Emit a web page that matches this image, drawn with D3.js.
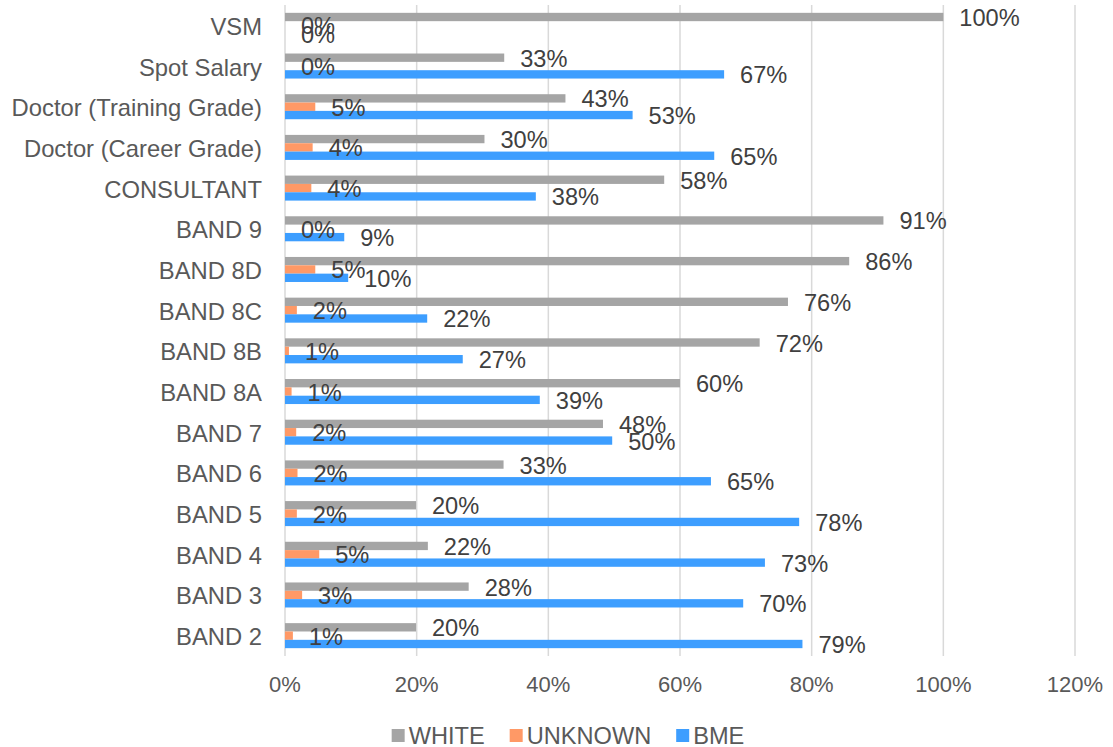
<!DOCTYPE html>
<html>
<head>
<meta charset="utf-8">
<script src="https://cdn.jsdelivr.net/npm/d3@7"></script>
<style>
    body { margin: 0; background: #ffffff; }
    text { font-family: "Liberation Sans", Arial, sans-serif; }
    .grid line { stroke: #d9d9d9; stroke-width: 1.5px; }
    .category { fill: #595959; font-size: 23.8px; }
    .tick-label { fill: #595959; font-size: 22px; }
    .value-label { fill: #404040; font-size: 23.6px; }
    .legend-text { fill: #595959; font-size: 23.6px; }
</style>
</head>
<body>
<div id="chart"></div>
<script>
// categories top to bottom
var categories = ["VSM", "Spot Salary", "Doctor (Training Grade)", "Doctor (Career Grade)", "CONSULTANT",
    "BAND 9", "BAND 8D", "BAND 8C", "BAND 8B", "BAND 8A", "BAND 7", "BAND 6", "BAND 5", "BAND 4", "BAND 3", "BAND 2"];
var seriesNames = ["WHITE", "UNKNOWN", "BME"];
var whiteValues = [100, 33.3, 42.6, 30.3, 57.6, 90.9, 85.7, 76.4, 72.1, 60.0, 48.3, 33.2, 19.9, 21.7, 27.9, 19.9];
var unknownValues = [0, 0, 4.6, 4.2, 4.0, 0, 4.6, 1.8, 0.6, 1.0, 1.7, 1.9, 1.8, 5.2, 2.6, 1.2];
var bmeValues = [0, 66.7, 52.8, 65.2, 38.1, 9.0, 9.6, 21.6, 27.0, 38.7, 49.7, 64.7, 78.1, 72.9, 69.6, 78.6];
var tickValues = [0, 20, 40, 60, 80, 100, 120];
var seriesColors = ["#a5a5a5", "#ff9966", "#3d9eff"];

/**
 * Constructor for the grouped bar chart
 */
function GroupedBarChart(){
    var self = this;
    self.init();
};

/**
 * Creates the svg and the scales
 */
GroupedBarChart.prototype.init = function(){
    var self = this;
    self.width = 1113;
    self.height = 747;
    self.plot = {left: 285, right: 1075, top: 5, bottom: 656};

    self.svg = d3.select("#chart").append("svg")
        .attr("width", self.width)
        .attr("height", self.height);

    self.xScale = d3.scaleLinear().domain([0, 120]).range([self.plot.left, self.plot.right]);
    self.yScale = d3.scaleBand().domain(categories)
        .range([self.plot.top, self.plot.bottom])
        .paddingInner(0.385)
        .paddingOuter(0.1925);
    self.innerScale = d3.scaleBand().domain(seriesNames).range([0, self.yScale.bandwidth()]);
    self.colorScale = d3.scaleOrdinal().domain(seriesNames).range(seriesColors);
};

/**
 * Draws grid, bars, labels and legend
 */
GroupedBarChart.prototype.update = function(){
    var self = this;
    var svg = self.svg;

    //vertical gridlines
    svg.append("g").attr("class", "grid")
        .selectAll("line").data(tickValues)
        .enter().append("line")
        .attr("x1", function (d) { return self.xScale(d); })
        .attr("x2", function (d) { return self.xScale(d); })
        .attr("y1", self.plot.top)
        .attr("y2", self.plot.bottom);

    svg.append("g").selectAll("text").data(tickValues)
        .enter().append("text")
        .attr("class", "tick-label")
        .attr("x", function (d) { return self.xScale(d); })
        .attr("y", 684)
        .attr("text-anchor", "middle")
        .attr("dominant-baseline", "central")
        .text(function (d) { return d + "%"; });

    //category labels
    svg.append("g").selectAll("text").data(categories)
        .enter().append("text")
        .attr("class", "category")
        .attr("x", 262)
        .attr("y", function (d) { return self.yScale(d) + self.yScale.bandwidth() / 2 + 1; })
        .attr("text-anchor", "end")
        .attr("dominant-baseline", "central")
        .text(function (d) { return d; });

    var seriesValues = [whiteValues, unknownValues, bmeValues];
    var rows = [];
    categories.forEach(function (cat, i) {
        seriesNames.forEach(function (s, j) {
            rows.push({category: cat, series: s, value: seriesValues[j][i]});
        });
    });

    svg.append("g").selectAll("rect").data(rows)
        .enter().append("rect")
        .attr("x", self.xScale(0))
        .attr("y", function (d) { return self.yScale(d.category) + self.innerScale(d.series); })
        .attr("width", function (d) { return self.xScale(d.value) - self.xScale(0); })
        .attr("height", self.innerScale.bandwidth())
        .attr("fill", function (d) { return self.colorScale(d.series); });

    svg.append("g").selectAll("text").data(rows)
        .enter().append("text")
        .attr("class", "value-label")
        .attr("x", function (d) { return self.xScale(d.value) + 16; })
        .attr("y", function (d) {
            return self.yScale(d.category) + self.innerScale(d.series) + self.innerScale.bandwidth() / 2 + 1;
        })
        .attr("dominant-baseline", "central")
        .text(function (d) { return Math.round(d.value) + "%"; });

    //legend, centred below the plot
    var legend = svg.append("g");
    var xPos = 0;
    seriesNames.forEach(function (s) {
        legend.append("rect")
            .attr("x", xPos)
            .attr("y", 729)
            .attr("width", 13)
            .attr("height", 13)
            .attr("fill", self.colorScale(s));
        var t = legend.append("text")
            .attr("class", "legend-text")
            .attr("x", xPos + 17)
            .attr("y", 735.5)
            .attr("dominant-baseline", "central")
            .text(s);
        xPos += 17 + t.node().getComputedTextLength() + 25;
    });
    var legendWidth = xPos - 25;
    legend.attr("transform", "translate(" + (568 - legendWidth / 2) + ",0)");
};

var chart = new GroupedBarChart();
chart.update();
</script>
</body>
</html>
